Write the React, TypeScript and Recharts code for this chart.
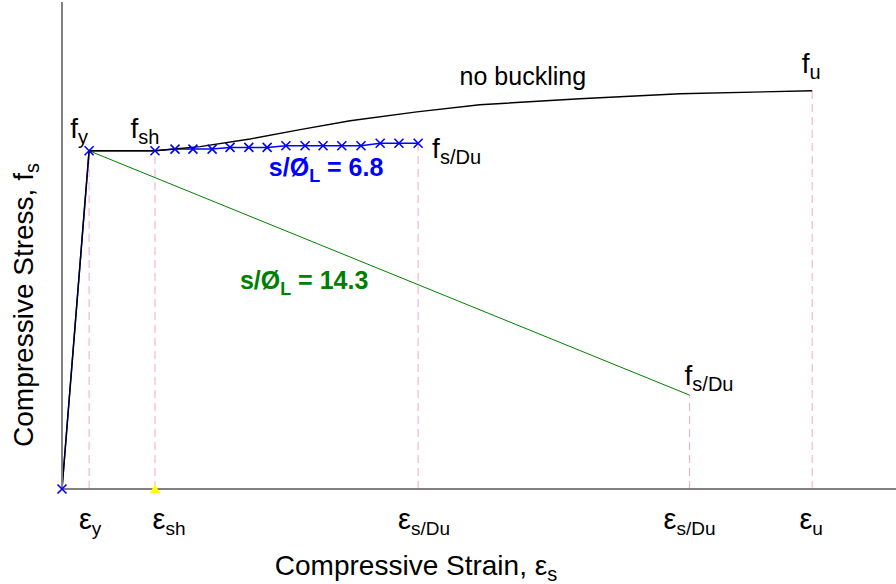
import React from "react";
import {
	ComposedChart,
	Line,
	XAxis,
	YAxis,
	ReferenceLine,
	ReferenceDot,
	Label,
} from "recharts";

// strain in %, stress in MPa (schematic)
const strainTicks = [0.65, 2.23, 8.54, 15.05, 17.99];
const strainTickSubs = ["y", "sh", "s/Du", "s/Du", "u"];

const noBucklingStrain = [0, 0.65, 2.23, 3.31, 4.51, 5.71, 6.91, 8.51, 10.02, 12.42, 14.82, 17.99];
const noBucklingStress = [0, 400, 400, 405, 414, 425, 435.5, 446, 454.5, 461.5, 467.5, 471];

const ratio68Strain = [0, 0.65, 2.23, 2.71, 3.14, 3.6, 4.03, 4.48, 4.92, 5.37, 5.83, 6.26, 6.71, 7.17, 7.63, 8.08, 8.54];
const ratio68Stress = [0, 400, 400, 402, 402, 402, 404, 404, 404, 406, 406, 406, 406, 406, 409, 409, 409];

const ratio143Strain = [0.65, 15.05];
const ratio143Stress = [400, 111];

// tops of the dashed guide lines (stress at each tick strain)
const guideTops = [400, 400, 409, 111, 471];

const zip = (xs: number[], ys: number[]) => xs.map((x, i) => ({ x, y: ys[i] }));

const noBuckling = zip(noBucklingStrain, noBucklingStress);
const ratio68 = zip(ratio68Strain, ratio68Stress);
const ratio143 = zip(ratio143Strain, ratio143Stress);

const FONT = "'Liberation Sans', Arial, Helvetica, sans-serif";
const BLUE = "#0000ff";
const GREEN = "#008000";
const PINK = "#f7a3c8";
const AXIS = "#808080";

const tickShift = [1, 14, 6, 0, -1];

function StrainTick(props: any) {
	const { x, y, index } = props;
	return (
		<text
			x={x + tickShift[index]}
			y={y + 38}
			textAnchor='middle'
			fontFamily={FONT}
			fontSize={29}
			fill='#000'
		>
			<tspan>ε</tspan>
			<tspan fontSize={19} dy={6}>
				{strainTickSubs[index]}
			</tspan>
		</text>
	);
}

function Cross(props: any) {
	const { cx, cy } = props;
	if (cx == null || cy == null) return null;
	const s = 4.5;
	return (
		<path
			d={`M${cx - s},${cy - s}L${cx + s},${cy + s}M${cx - s},${cy + s}L${cx + s},${cy - s}`}
			stroke={BLUE}
			strokeWidth={1.6}
			fill='none'
		/>
	);
}

function Sub({ base, sub, subSize = 20 }: any) {
	return (
		<>
			<tspan>{base}</tspan>
			<tspan fontSize={subSize} dy={6}>
				{sub}
			</tspan>
		</>
	);
}

type NoteProps = {
	at: { x: number; y: number };
	dx: number;
	dy: number;
	anchor?: "start" | "middle" | "end";
	fill?: string;
	bold?: boolean;
	size?: number;
	children: React.ReactNode;
};

function note(key: string, { at, dx, dy, anchor = "start", fill = "#000", bold, size = 28, children }: NoteProps) {
	return (
		<ReferenceDot
			key={key}
			x={at.x}
			y={at.y}
			r={1}
			ifOverflow='visible'
			shape={(p: any) => (
				<text
					x={p.cx + dx}
					y={p.cy + dy}
					textAnchor={anchor}
					fontFamily={FONT}
					fontSize={size}
					fontWeight={bold ? "bold" : "normal"}
					fill={fill}
				>
					{children}
				</text>
			)}
		/>
	);
}

export default function App() {
	const yieldPt = ratio68[1];
	const shPt = ratio68[2];
	const end68 = ratio68[ratio68.length - 1];
	const mid68 = ratio68[10];
	const end143 = ratio143[1];
	const ultPt = noBuckling[noBuckling.length - 1];
	const nbPt = noBuckling[8];

	return (
		<div style={{ position: "absolute", left: 0, top: 0, background: "#fff" }}>
			<ComposedChart
				width={896}
				height={584}
				margin={{ top: 2, right: 0, left: 0, bottom: 0 }}
			>
				<XAxis
					type='number'
					dataKey='x'
					domain={[0, 20]}
					ticks={strainTicks}
					interval={0}
					tick={<StrainTick />}
					tickLine={false}
					tickSize={0}
					height={95}
					axisLine={{ stroke: AXIS, strokeWidth: 2 }}
				>
					<Label
						content={(p: any) => {
							const vb = p.viewBox;
							return (
								<text
									x={vb.x + 354}
									y={vb.y + 86}
									textAnchor='middle'
									fontFamily={FONT}
									fontSize={28}
									fill='#000'
								>
									<Sub base='Compressive Strain, ε' sub='s' />
								</text>
							);
						}}
					/>
				</XAxis>
				<YAxis
					type='number'
					dataKey='y'
					domain={[0, 576]}
					width={62}
					tick={false}
					tickLine={false}
					axisLine={{ stroke: AXIS, strokeWidth: 2 }}
				>
					<Label
						content={(p: any) => {
							const vb = p.viewBox;
							const cx = vb.x + 33;
							const cy = vb.y + 303;
							return (
								<text
									x={cx}
									y={cy}
									transform={`rotate(-90 ${cx} ${cy})`}
									textAnchor='middle'
									fontFamily={FONT}
									fontSize={28}
									fill='#000'
								>
									<Sub base='Compressive Stress, f' sub='s' />
								</text>
							);
						}}
					/>
				</YAxis>

				{strainTicks.map((s, i) => (
					<ReferenceLine
						key={"g" + i}
						segment={[
							{ x: s, y: 0 },
							{ x: s, y: guideTops[i] },
						]}
						stroke={PINK}
						strokeWidth={1}
						strokeDasharray='8 5'
					/>
				))}

				<Line
					data={ratio143}
					dataKey='y'
					type='linear'
					stroke={GREEN}
					strokeWidth={1}
					dot={false}
					isAnimationActive={false}
				/>
				<Line
					data={ratio68}
					dataKey='y'
					type='linear'
					stroke={BLUE}
					strokeWidth={1.5}
					dot={false}
					isAnimationActive={false}
				/>
				<Line
					data={noBuckling}
					dataKey='y'
					type='linear'
					stroke='#000'
					strokeWidth={1.4}
					dot={false}
					isAnimationActive={false}
				/>
				<Line
					data={ratio68}
					dataKey='y'
					type='linear'
					stroke='none'
					strokeWidth={0}
					dot={(p: any) => <Cross key={"c" + p.index} {...p} />}
					activeDot={false}
					isAnimationActive={false}
				/>

				<ReferenceDot
					x={strainTicks[1]}
					y={0}
					r={5}
					ifOverflow='visible'
					shape={(p: any) => (
						<path
							d={`M${p.cx - 5},${p.cy + 4}L${p.cx + 5},${p.cy + 4}L${p.cx},${p.cy - 5}Z`}
							fill='#ffff00'
						/>
					)}
				/>

				{note("fy", { at: yieldPt, dx: -1, dy: -13, anchor: "end", children: <Sub base='f' sub='y' /> })}
				{note("fsh", { at: shPt, dx: -10, dy: -13, anchor: "middle", children: <Sub base='f' sub='sh' /> })}
				{note("nb", { at: nbPt, dx: 43, dy: -20, anchor: "middle", size: 25, children: "no buckling" })}
				{note("fu", { at: ultPt, dx: -1, dy: -18, anchor: "middle", children: <Sub base='f' sub='u' /> })}
				{note("f68", { at: end68, dx: 14, dy: 15, children: <Sub base='f' sub='s/Du' /> })}
				{note("r68", {
					at: mid68,
					dx: 21,
					dy: 30,
					anchor: "middle",
					fill: BLUE,
					bold: true,
					size: 25,
					children: (
						<>
							<tspan>s/Ø</tspan>
							<tspan fontSize={18} dy={6}>L</tspan>
							<tspan dy={-6}> = 6.8</tspan>
						</>
					),
				})}
				{note("r143", {
					at: yieldPt,
					dx: 215,
					dy: 138,
					anchor: "middle",
					fill: GREEN,
					bold: true,
					size: 25,
					children: (
						<>
							<tspan>s/Ø</tspan>
							<tspan fontSize={18} dy={6}>L</tspan>
							<tspan dy={-6}> = 14.3</tspan>
						</>
					),
				})}
				{note("f143", { at: end143, dx: -5, dy: -10, children: <Sub base='f' sub='s/Du' /> })}
			</ComposedChart>
		</div>
	);
}
